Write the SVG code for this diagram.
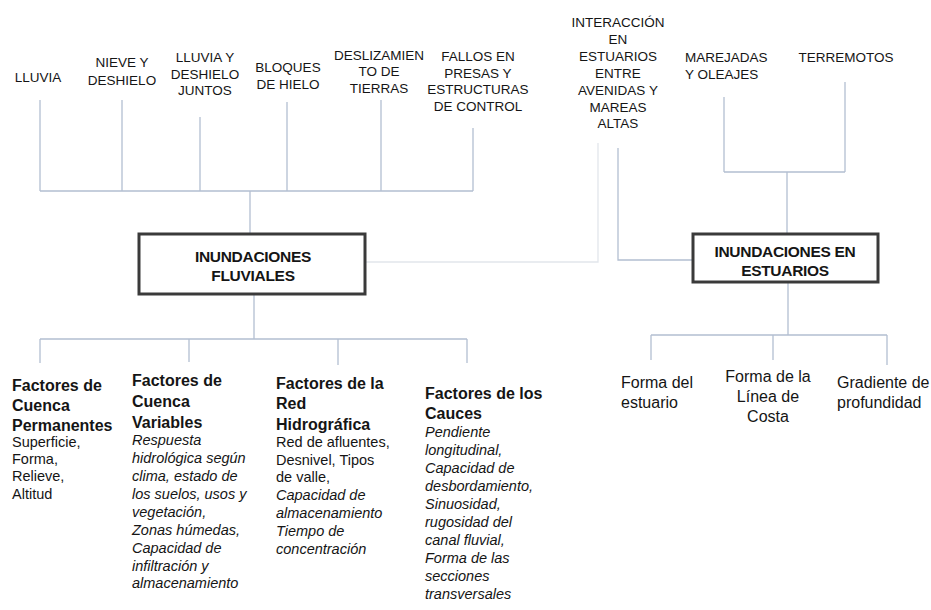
<svg xmlns="http://www.w3.org/2000/svg" width="931" height="610" viewBox="0 0 931 610">
<style>
.bg{fill:#ffffff}
.ln{stroke:#b3bfd1;stroke-width:1.3;fill:none}
.fl{stroke:#e2e6ec;stroke-width:1.3;fill:none}
.box{fill:#ffffff;stroke:#3a3a3a;stroke-width:3}
.t{font-family:"Liberation Sans",Arial,sans-serif;fill:#151515}
.top{font-size:13.5px;text-anchor:middle}
.bx{font-size:15.5px;font-weight:bold;text-anchor:middle;letter-spacing:-0.3px}
.h{font-size:16px;font-weight:bold}
.b{font-size:14.5px}
.i{font-style:italic}
.e{font-size:16px}
</style>
<rect class="bg" x="0" y="0" width="931" height="610"/>
<g id="connectors">
  <path class="ln" d="M40,100V191M122,100V191M200,117V191M287,102V191M381,100V191M473,128V191M40,191H473"/>
  <path class="ln" d="M250,191V234"/>
  <path class="ln" d="M254,294V339M40,339H467M40,339V363M189,339V362M338,339V365M467,339V363"/>
  <path class="fl" d="M365,262H598V143"/>
  <path class="ln" d="M618,148V260H693"/>
  <path class="ln" d="M724,97V172M845,82V172M724,172H845M787,172V234"/>
  <path class="ln" d="M788,282V335M651,335H887M651,335V360M773,335V360M887,335V365"/>
</g>
<g id="lluvia"><text class="t top" x="38" y="82">LLUVIA</text></g>
<g id="nieve"><text class="t top" x="122" y="67">NIEVE Y<tspan x="122" y="85">DESHIELO</tspan></text></g>
<g id="lluvia-deshielo"><text class="t top" x="205" y="62">LLUVIA Y<tspan x="205" y="79">DESHIELO</tspan><tspan x="205" y="95">JUNTOS</tspan></text></g>
<g id="bloques"><text class="t top" x="288" y="72">BLOQUES<tspan x="288" y="89">DE HIELO</tspan></text></g>
<g id="deslizamiento"><text class="t top" x="379" y="60">DESLIZAMIEN<tspan x="379" y="76">TO DE</tspan><tspan x="379" y="93">TIERRAS</tspan></text></g>
<g id="fallos"><text class="t top" x="478" y="61">FALLOS EN<tspan x="478" y="78">PRESAS Y</tspan><tspan x="478" y="94">ESTRUCTURAS</tspan><tspan x="478" y="111">DE CONTROL</tspan></text></g>
<g id="interaccion"><text class="t top" x="618" y="27">INTERACCIÓN<tspan x="618" y="44">EN</tspan><tspan x="618" y="61">ESTUARIOS</tspan><tspan x="618" y="78">ENTRE</tspan><tspan x="618" y="95">AVENIDAS Y</tspan><tspan x="618" y="112">MAREAS</tspan><tspan x="618" y="128">ALTAS</tspan></text></g>
<g id="marejadas"><text class="t top" x="685" y="62" style="text-anchor:start">MAREJADAS<tspan x="685" y="79">Y OLEAJES</tspan></text></g>
<g id="terremotos"><text class="t top" x="846" y="62">TERREMOTOS</text></g>
<g id="fluviales">
  <rect class="box" x="139" y="234" width="226" height="60"/>
  <text class="t bx" x="253" y="262">INUNDACIONES<tspan x="253" y="281">FLUVIALES</tspan></text>
</g>
<g id="estuarios">
  <rect class="box" x="693" y="234" width="185" height="48"/>
  <text class="t bx" x="785" y="257">INUNDACIONES EN<tspan x="785" y="276">ESTUARIOS</tspan></text>
</g>
<g id="permanentes">
  <text class="t h" x="12" y="391">Factores de<tspan x="12" y="411">Cuenca</tspan><tspan x="12" y="431">Permanentes</tspan></text>
  <text class="t b" x="12" y="447">Superficie,<tspan x="12" y="464">Forma,</tspan><tspan x="12" y="481">Relieve,</tspan><tspan x="12" y="499">Altitud</tspan></text>
</g>
<g id="variables">
  <text class="t h" x="132" y="386">Factores de<tspan x="132" y="407">Cuenca</tspan><tspan x="132" y="428">Variables</tspan></text>
  <text class="t b i" x="132" y="445">Respuesta<tspan x="132" y="463">hidrológica según</tspan><tspan x="132" y="481">clima, estado de</tspan><tspan x="132" y="499">los suelos, usos y</tspan><tspan x="132" y="517">vegetación,</tspan><tspan x="132" y="535">Zonas húmedas,</tspan><tspan x="132" y="553">Capacidad de</tspan><tspan x="132" y="571">infiltración y</tspan><tspan x="132" y="588">almacenamiento</tspan></text>
</g>
<g id="red">
  <text class="t h" x="276" y="389">Factores de la<tspan x="276" y="409">Red</tspan><tspan x="276" y="430">Hidrográfica</tspan></text>
  <text class="t b" x="276" y="447">Red de afluentes,<tspan x="276" y="465">Desnivel, Tipos</tspan><tspan x="276" y="482">de valle,</tspan></text>
  <text class="t b i" x="276" y="500">Capacidad de<tspan x="276" y="518">almacenamiento</tspan><tspan x="276" y="536">Tiempo de</tspan><tspan x="276" y="554">concentración</tspan></text>
</g>
<g id="cauces">
  <text class="t h" x="425" y="399">Factores de los<tspan x="425" y="419">Cauces</tspan></text>
  <text class="t b i" x="425" y="437">Pendiente<tspan x="425" y="455">longitudinal,</tspan><tspan x="425" y="473">Capacidad de</tspan><tspan x="425" y="491">desbordamiento,</tspan><tspan x="425" y="509">Sinuosidad,</tspan><tspan x="425" y="527">rugosidad del</tspan><tspan x="425" y="545">canal fluvial,</tspan><tspan x="425" y="563">Forma de las</tspan><tspan x="425" y="581">secciones</tspan><tspan x="425" y="599">transversales</tspan></text>
</g>
<g id="forma-estuario"><text class="t e" x="621" y="388">Forma del<tspan x="621" y="408">estuario</tspan></text></g>
<g id="forma-costa"><text class="t e" x="768" y="382" style="text-anchor:middle">Forma de la<tspan x="768" y="402">Línea de</tspan><tspan x="768" y="422">Costa</tspan></text></g>
<g id="gradiente"><text class="t e" x="837" y="388">Gradiente de<tspan x="837" y="408">profundidad</tspan></text></g>
</svg>
